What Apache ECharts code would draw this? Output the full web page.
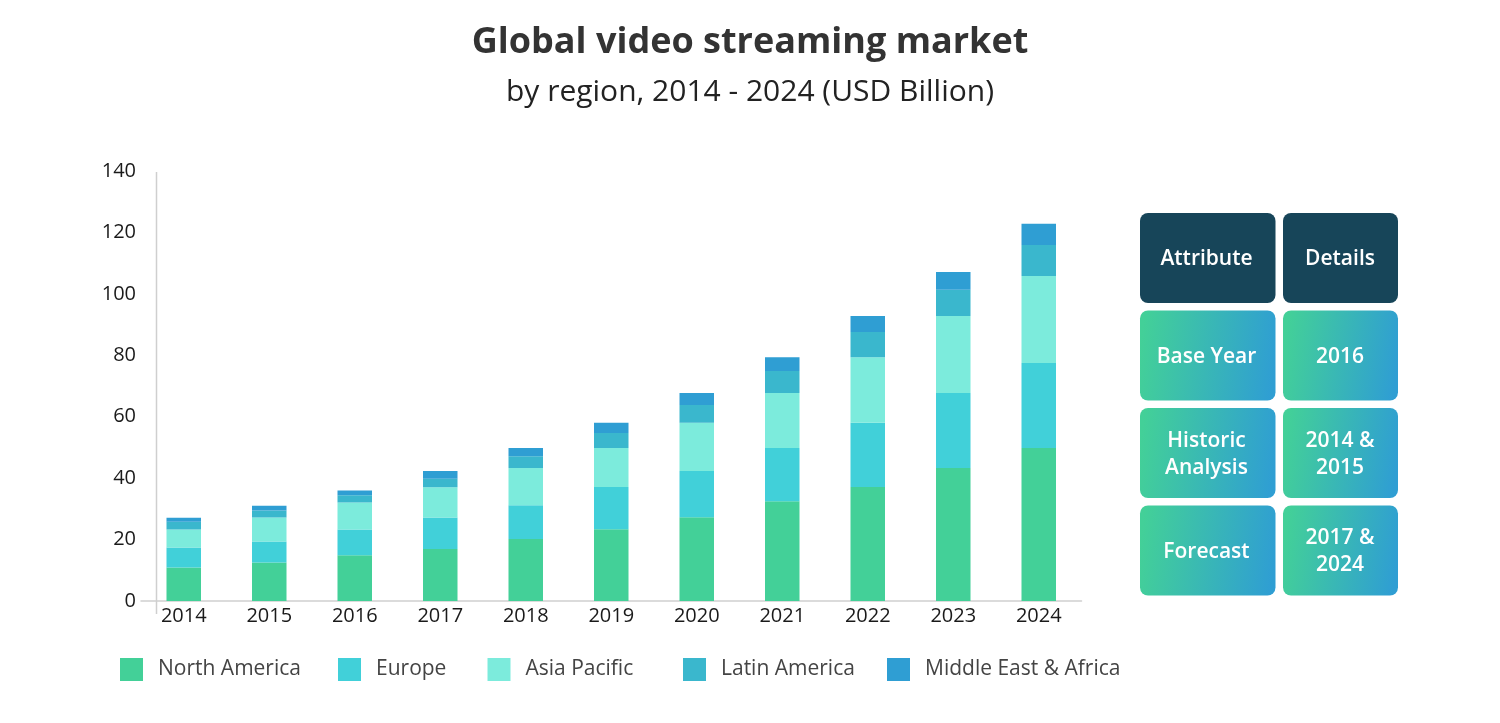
<!DOCTYPE html>
<html>
<head>
<meta charset="utf-8">
<title>Global video streaming market</title>
<script src="https://cdn.jsdelivr.net/npm/echarts@6/dist/echarts.min.js"></script>
<style>
  html, body { margin: 0; padding: 0; background: #fff; }
  .stack-chart { width: 1500px; height: 723px; }
</style>
</head>
<body>
<div class="stack-chart"></div>
<script>
// stacked bars + attribute table on the right
const stackChart = echarts.init(document.querySelector('.stack-chart'))

const fontName = '"Open Sans"'
const years = ['2014', '2015', '2016', '2017', '2018', '2019', '2020', '2021', '2022', '2023', '2024']

// values (USD Billion), one row per region
const regions = [
  { name: 'North America', color: '#43d098', legendX: 120, data: [10.9, 12.5, 14.9, 16.9, 20.2, 23.4, 27.3, 32.5, 37.1, 43.3, 49.8] },
  { name: 'Europe', color: '#41d0d9', legendX: 338, data: [6.5, 6.9, 8.4, 10.3, 11.0, 13.7, 15.0, 17.3, 20.9, 24.4, 27.7] },
  { name: 'Asia Pacific', color: '#7cebdc', legendX: 487.5, data: [5.9, 7.8, 8.8, 9.8, 12.1, 12.7, 15.7, 17.9, 21.4, 25.1, 28.3] },
  { name: 'Latin America', color: '#3ab7cd', legendX: 683, data: [2.5, 2.3, 2.3, 2.8, 3.8, 4.9, 5.8, 7.2, 8.2, 8.5, 10.1] },
  { name: 'Middle East & Africa', color: '#2f9ed3', legendX: 887, data: [1.3, 1.5, 1.6, 2.5, 2.7, 3.3, 3.9, 4.5, 5.2, 5.8, 6.9] }
]

// table on the right
const tableRows = [
  { y: 213, cells: ['Attribute', 'Details'], head: true },
  { y: 310.5, cells: ['Base Year', '2016'] },
  { y: 408, cells: ['Historic\nAnalysis', '2014 &\n2015'] },
  { y: 505.5, cells: ['Forecast', '2017 &\n2024'] }
]
const tableCols = [
  { x: 1140, width: 135.5, textX: 1206.5 },
  { x: 1283, width: 115, textX: 1340 }
]

function tableCards() {
  const cards = []
  tableRows.forEach(function (row) {
    row.cells.forEach(function (text, i) {
      const col = tableCols[i]
      cards.push({
        type: 'rect',
        shape: { x: col.x, y: row.y, width: col.width, height: 90, r: 8 },
        style: {
          fill: row.head ? '#174559' : new echarts.graphic.LinearGradient(0, 0.4, 1, 0.6, [
            { offset: 0, color: '#43d098' },
            { offset: 1, color: '#2f9ed3' }
          ])
        }
      })
      cards.push({
        type: 'text',
        x: col.textX,
        y: row.y + 46.5,
        style: {
          text: text,
          fill: '#fff',
          font: '600 21px ' + fontName,
          lineHeight: 27,
          align: 'center',
          verticalAlign: 'middle'
        }
      })
    })
  })
  return cards
}

const stackOption = {
  animation: false,
  title: {
    text: 'Global video streaming market',
    subtext: 'by region, 2014 - 2024 (USD Billion)',
    left: 'center',
    top: 20,
    itemGap: 16,
    textStyle: { fontFamily: fontName, fontSize: 36, fontWeight: 700, color: '#333' },
    subtextStyle: { fontFamily: fontName, fontSize: 30, color: '#222' }
  },
  grid: { left: 141, right: 418.5, top: 171, bottom: 122 },
  // one legend per region, the gaps in the picture are not even
  legend: regions.map(function (r) {
    return {
      data: [r.name],
      left: r.legendX,
      top: 658,
      padding: 0,
      itemWidth: 23,
      itemHeight: 23,
      icon: 'rect',
      textStyle: { fontFamily: fontName, fontSize: 21, color: '#444', padding: [10, 0, 0, 10] }
    }
  }),
  xAxis: {
    type: 'category',
    data: years,
    axisLine: { lineStyle: { color: '#cfcfcf', width: 1.5 } },
    axisTick: { show: false },
    axisLabel: { fontFamily: fontName, fontSize: 20, color: '#1a1a1a', margin: 5 }
  },
  yAxis: {
    type: 'value',
    min: 0,
    max: 140,
    interval: 20,
    axisLine: { show: false },
    axisTick: { show: false },
    splitLine: { show: false },
    axisLabel: { fontFamily: fontName, fontSize: 20, color: '#1a1a1a', margin: 5 }
  },
  series: regions.map(function (r) {
    return {
      name: r.name,
      type: 'bar',
      stack: 'total',
      barWidth: 34.5,
      itemStyle: { color: r.color },
      data: r.data
    }
  }),
  graphic: [
    // vertical axis line sits inside the x axis and runs past it
    {
      type: 'line',
      shape: { x1: 156.5, y1: 172, x2: 156.5, y2: 614 },
      style: { stroke: '#cfcfcf', lineWidth: 1.5 }
    }
  ].concat(tableCards())
}

stackChart.setOption(stackOption)
</script>
</body>
</html>
